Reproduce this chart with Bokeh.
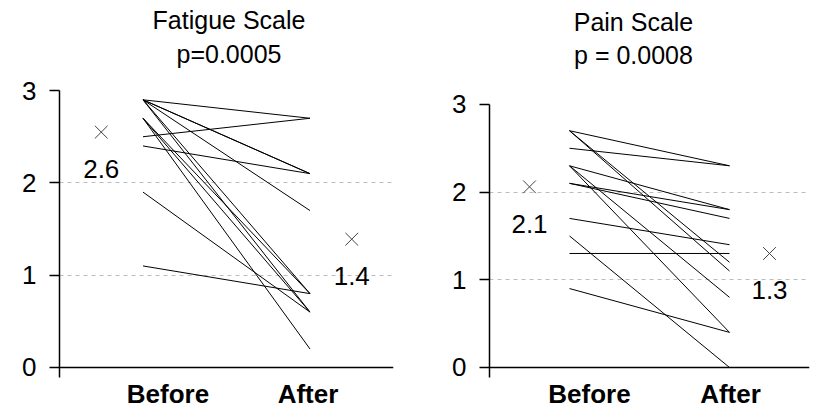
from bokeh.plotting import figure
from bokeh.layouts import row
from bokeh.models import Range1d, FixedTicker, Span, ColumnDataSource
from bokeh.core.properties import value
from bokeh.embed import file_html
from bokeh.resources import INLINE

# ---- data ----
categories = ["Before", "After"]

fatigue_before = [2.9, 2.5, 2.9, 2.9, 2.4, 2.9, 2.9, 2.9, 2.7, 2.7, 2.7, 1.9, 1.1]
fatigue_after = [2.7, 2.7, 2.1, 2.1, 2.1, 1.7, 0.8, 0.6, 0.8, 0.6, 0.2, 0.6, 0.8]
fatigue_means = [2.55, 1.39]
fatigue_mean_labels = ["2.6", "1.4"]

pain_before = [2.7, 2.5, 2.7, 2.7, 2.3, 2.3, 2.3, 2.1, 2.1, 1.7, 1.5, 1.3, 0.9]
pain_after = [2.3, 2.3, 1.2, 1.1, 1.8, 0.8, 0.4, 1.8, 1.7, 1.4, 0.0, 1.3, 0.4]
pain_means = [2.06, 1.30]
pain_mean_labels = ["2.1", "1.3"]

y_ticks = [0, 1, 2, 3]
grid_ticks = [1, 2]

FONT = "Liberation Sans"


def panel(titles, before, after, means, mean_labels, width,
          mb_left, mb_right, y_range, axis_low, t_x, t_offsets, cat_xoff):
    cat_pos = [i + 1 for i in range(len(categories))]
    p = figure(width=width, height=411, output_backend="svg", toolbar_location=None,
               x_range=Range1d(0.5, 2.5), y_range=Range1d(*y_range),
               x_axis_location=None,
               min_border_left=mb_left, min_border_right=mb_right,
               min_border_top=0, min_border_bottom=0)
    p.outline_line_color = None
    p.background_fill_color = "white"
    p.border_fill_color = "white"

    # y axis
    ya = p.yaxis[0]
    ya.bounds = (axis_low, 3)
    ya.ticker = FixedTicker(ticks=y_ticks)
    ya.minor_tick_line_color = None
    ya.major_tick_in = 0
    ya.major_tick_out = 10
    ya.major_tick_line_color = "black"
    ya.major_tick_line_width = 1.5
    ya.axis_line_color = "black"
    ya.axis_line_width = 1.5
    ya.major_label_text_font = FONT
    ya.major_label_text_font_size = "26px"
    ya.major_label_text_color = "black"
    ya.major_label_standoff = 13

    # grid
    p.xgrid.grid_line_color = None
    p.ygrid.ticker = FixedTicker(ticks=grid_ticks)
    p.ygrid.grid_line_color = "#bdbdbd"
    p.ygrid.grid_line_dash = "4 4"
    p.ygrid.grid_line_width = 1

    # baseline at 0
    p.add_layout(Span(location=0, dimension="width", line_color="black", line_width=1.5))

    # category labels under the baseline
    csrc = ColumnDataSource(dict(x=cat_pos, y=[0] * len(cat_pos), t=categories,
                                 xo=cat_xoff))
    p.text("x", "y", text="t", source=csrc, text_align="center",
           text_baseline="alphabetic", y_offset=27, x_offset="xo",
           text_font=value(FONT),
           text_font_size="26px", text_font_style="bold", text_color="black")

    # subject lines
    xs = [[cat_pos[0], cat_pos[1]] for _ in before]
    ys = [[b, a] for b, a in zip(before, after)]
    p.multi_line(xs=xs, ys=ys, line_color="black", line_width=1)

    # means
    mx = [cat_pos[0] - 0.25, cat_pos[1] + 0.25]
    src = ColumnDataSource(dict(x=mx, y=means, t=mean_labels))
    p.scatter("x", "y", source=src, marker="x", size=18, line_color="#444444", line_width=1)
    p.text("x", "y", text="t", source=src, text_align="center", text_baseline="top",
           y_offset=28, text_font_size="26px", text_color="black",
           text_font=value(FONT))

    # titles
    tsrc = ColumnDataSource(dict(x=[t_x] * len(titles), y=[3] * len(titles),
                                 t=titles, off=t_offsets))
    p.text("x", "y", text="t", source=tsrc, text_align="center",
           text_baseline="alphabetic", y_offset="off", text_font=value(FONT),
           text_font_size="25px", text_color="black")
    return p


p1 = panel(["Fatigue Scale", "p=0.0005"], fatigue_before, fatigue_after,
           fatigue_means, fatigue_mean_labels, width=420,
           mb_left=59, mb_right=27, y_range=(-0.477, 3.976), axis_low=-0.108,
           t_x=1.515, t_offsets=[-71, -37], cat_xoff=[25, -2])
p2 = panel(["Pain Scale", "p = 0.0008"], pain_before, pain_after,
           pain_means, pain_mean_labels, width=393,
           mb_left=69, mb_right=4, y_range=(-0.502, 4.185), axis_low=-0.114,
           t_x=1.40, t_offsets=[-82, -49], cat_xoff=[20, 1])

layout = row(p1, p2)
open("out.html", "w").write(file_html(layout, INLINE))
